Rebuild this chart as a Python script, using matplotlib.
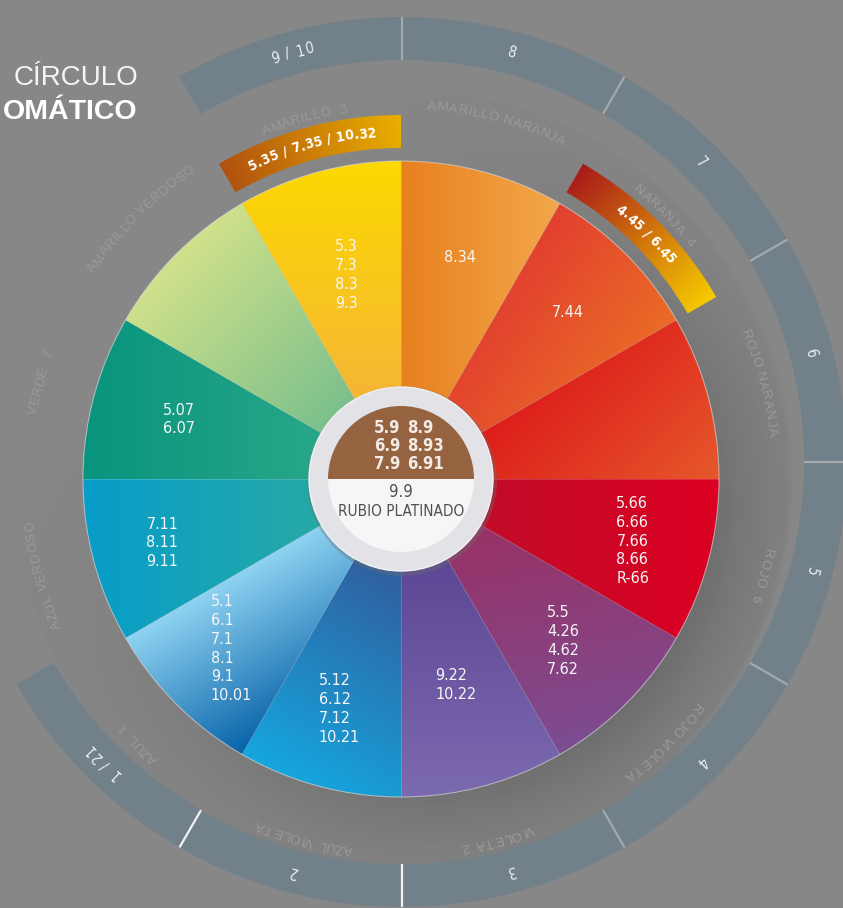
import numpy as np
import matplotlib
matplotlib.use("Agg")
import matplotlib.pyplot as plt
from matplotlib.patches import Wedge, Circle
from matplotlib.colors import to_rgb
from matplotlib.font_manager import FontProperties
from matplotlib.textpath import TextToPath

W, H, DPI = 843, 908, 100

# ================= DATA =================
# wheel sectors, clockwise from 12 o'clock (each 30 degrees)
sector_codes = ["8.34", "7.44", "", "5.66\n6.66\n7.66\n8.66\nR-66",
                "5.5\n4.26\n4.62\n7.62", "9.22\n10.22",
                "5.12\n6.12\n7.12\n10.21", "5.1\n6.1\n7.1\n8.1\n9.1\n10.01",
                "7.11\n8.11\n9.11", "5.07\n6.07", "", "5.3\n7.3\n8.3\n9.3"]
color_names = ["AMARILLO NARANJA", "NARANJA .4", "ROJO NARANJA", "ROJO .6",
               "ROJO VIOLETA", "VIOLETA .2", "AZUL VIOLETA", "AZUL .1",
               "AZUL VERDOSO", "VERDE .7", "AMARILLO VERDOSO", "AMARILLO .3"]
# (start colour, end colour, gradient direction in degrees)
sector_fill = [("#e8801e", "#f2a84c", 0), ("#e2402f", "#ea6c26", -35),
               ("#dc1619", "#e6582b", -45), ("#b8102c", "#dc0022", 0),
               ("#a02a5a", "#7c4d92", -80), ("#523b8b", "#7c6ab0", -90),
               ("#3a4688", "#15a6de", -120), ("#8fd3f2", "#0762a8", -60),
               ("#079dca", "#31ad98", 0), ("#08947f", "#33ad8b", 0),
               ("#d0e18a", "#5ab38d", -45), ("#fdd900", "#f2aa48", -90)]

# outer level ring, clockwise starting at the 120 degree mark
ring_levels = ["9 / 10", "8", "7", "6", "5", "4", "3", "2", "1 / 21"]

# highlighted arcs: text, sector index, colours
highlight_text = ["5.35 / 7.35 / 10.32", "4.45 / 6.45"]
highlight_sector = [11, 1]
highlight_fill = [("#b0500f", "#eab000"), ("#a8181a", "#f7cd00")]

hub_left = ["5.9", "6.9", "7.9"]
hub_right = ["8.9", "8.93", "6.91"]
hub_code = "9.9"
hub_name = "RUBIO PLATINADO"

# ================= LAYOUT =================
CX, CY = 401, 908 - 479          # wheel centre
RX, RY = 402, 908 - 462          # level ring centre
R_WHEEL = 318
label_r = [229, 236, 0, 240, 229, 213, 238, 240, 247, 230, 0, 211]
BG = "#878787"
NARROW = ["Liberation Sans Narrow", "DejaVu Sans"]
SANS = ["Liberation Sans", "DejaVu Sans"]

fig = plt.figure(figsize=(W / DPI, H / DPI), dpi=DPI, facecolor=BG)
ax = fig.add_axes([0, 0, 1, 1])
ax.set_facecolor(BG)
ax.axis("off")

ttp = TextToPath()


def text_w(s, fp):
    # width in pixels, trailing spaces kept by measuring against a bar
    a = ttp.get_text_width_height_descent(s + "|", fp, ismath=False)[0]
    b = ttp.get_text_width_height_descent("|", fp, ismath=False)[0]
    return (a - b) * DPI / 72


def arc_text(s, r, ang, cx, cy, size, color, weight="normal", family=SANS,
             stretch="normal", spacing=0.0, z=10):
    fp = FontProperties(family=family, weight=weight, size=size, stretch=stretch)
    total = text_w(s, fp) + spacing * (len(s) - 1)
    base_r = r - size * 0.5
    for i, ch in enumerate(s):
        if ch == " ":
            continue
        mid = -total / 2 + (text_w(s[:i], fp) + text_w(s[:i + 1], fp)) / 2 + spacing * i
        a = np.radians(ang) - mid / base_r
        ax.text(cx + base_r * np.cos(a), cy + base_r * np.sin(a), ch,
                rotation=np.degrees(a) - 90, rotation_mode="anchor",
                ha="center", va="baseline", fontproperties=fp, color=color,
                zorder=z)


def grad_patch(patch, c0, c1, direction, z):
    patch.set_facecolor("none")
    patch.set_edgecolor("none")
    ax.add_patch(patch)
    verts = patch.get_path().vertices
    x0, y0 = verts.min(0)
    x1, y1 = verts.max(0)
    n = 200
    X, Y = np.meshgrid(np.linspace(x0, x1, n), np.linspace(y0, y1, n))
    d = np.array([np.cos(np.radians(direction)), np.sin(np.radians(direction))])
    pv = verts @ d
    t = ((X * d[0] + Y * d[1] - pv.min()) / (pv.max() - pv.min())).clip(0, 1)
    img = np.array(to_rgb(c0)) * (1 - t)[..., None] + np.array(to_rgb(c1)) * t[..., None]
    im = ax.imshow(img, extent=(x0, x1, y0, y1), origin="lower", zorder=z,
                   interpolation="bilinear")
    im.set_clip_path(patch)


# ---- shadow band around the wheel (darker to the lower right) ----
yy, xx = np.mgrid[0:H, 0:W] + 0.5
rr = np.hypot(xx - CX, yy - CY)
aa = np.arctan2(yy - CY, xx - CX)
near = ((390 - rr) / 72).clip(0, 1)
side = (0.5 + 0.5 * np.cos(aa + np.radians(40))) ** 1.4
edge = ((393 - rr) / 6).clip(0, 1)
shade = np.zeros((H, W, 4))
shade[..., 3] = side * edge * (0.06 + 0.13 * near ** 1.3)
ax.imshow(shade, extent=(0, W, 0, H), origin="lower", zorder=1)

# ---- outer level ring ----
ax.add_patch(Wedge((RX, RY), 445, -150, 120, width=43, facecolor="#728089",
                   edgecolor="none", zorder=2))
for k in range(1, len(ring_levels)):
    deg = 120 - 30 * k
    a = np.radians(deg)
    col = "#f2f2f2" if deg in (-90, -120) else "#a3a9ad"
    ax.plot([RX + 402 * np.cos(a), RX + 445 * np.cos(a)],
            [RY + 402 * np.sin(a), RY + 445 * np.sin(a)],
            color=col, lw=1.6, zorder=3, solid_capstyle="butt")
for k, lab in enumerate(ring_levels):
    arc_text(lab, 424, 105 - 30 * k, RX, RY, 10.5, "#eceff0",
             family=NARROW, stretch="condensed", spacing=1.0)

# ---- colour names in the band ----
for i, name in enumerate(color_names):
    arc_text(name, 375, 75 - 30 * i, CX, CY, 9.5, "#9a9a9a", spacing=0.6)

# ---- wheel sectors ----
for i in range(12):
    c0, c1, dirn = sector_fill[i]
    grad_patch(Wedge((CX, CY), R_WHEEL, 60 - 30 * i, 90 - 30 * i), c0, c1, dirn, 4)
ax.add_patch(Circle((CX, CY), R_WHEEL, facecolor="none", edgecolor="#dddddd",
                    lw=0.8, alpha=0.6, zorder=5))
for i in range(12):
    a = np.radians(90 - 30 * i)
    ax.plot([CX, CX + R_WHEEL * np.cos(a)], [CY, CY + R_WHEEL * np.sin(a)],
            color="white", lw=0.5, alpha=0.25, zorder=5)

for i, codes in enumerate(sector_codes):
    if not codes:
        continue
    a = np.radians(75 - 30 * i)
    ax.text(CX + label_r[i] * np.cos(a), CY + label_r[i] * np.sin(a), codes,
            ha="center", va="center", multialignment="left", linespacing=1.32,
            family=NARROW, fontstretch="condensed", fontsize=11.5,
            color="#f6f6f6", zorder=6)

# ---- highlighted arcs ----
for txt, s, (c0, c1) in zip(highlight_text, highlight_sector, highlight_fill):
    t1, t2 = 60 - 30 * s, 90 - 30 * s
    mid = (t1 + t2) / 2
    grad_patch(Wedge((CX, CY), 364, t1, t2, width=33), c0, c1, mid - 90, 4)
    arc_text(txt, 348, mid, CX, CY, 10, "white", weight="bold", family=NARROW,
             stretch="condensed", spacing=0.2, z=7)

# ---- hub ----
ax.add_patch(Circle((CX + 1, CY - 2), 95, facecolor="#6f6f6f", alpha=0.35,
                    edgecolor="none", zorder=7))
ax.add_patch(Circle((CX, CY), 92, facecolor="#e3e3e7", edgecolor="#f2f2f4",
                    lw=1.0, zorder=8))
ax.add_patch(Wedge((CX, CY), 73, 0, 180, facecolor="#95633f", edgecolor="none",
                   zorder=9))
ax.add_patch(Wedge((CX, CY), 73, 180, 360, facecolor="#f6f6f6", edgecolor="none",
                   zorder=9))
for j in range(3):
    y = 908 - (428 + 18 * j)
    ax.text(374, y, hub_left[j], ha="left", va="center", family=NARROW,
            fontstretch="condensed", fontsize=12, fontweight="bold",
            color="#f3ece6", zorder=10)
    ax.text(407, y, hub_right[j], ha="left", va="center", family=NARROW,
            fontstretch="condensed", fontsize=12, fontweight="bold",
            color="#f3ece6", zorder=10)
ax.text(CX, 908 - 492, hub_code, ha="center", va="center", family=NARROW,
        fontstretch="condensed", fontsize=12, color="#505050", zorder=10)
ax.text(CX, 908 - 511, hub_name, ha="center", va="center", family=NARROW,
        fontstretch="condensed", fontsize=11, color="#505050", zorder=10)

# ---- title ----
ax.text(138, 908 - 78, "CÍRCULO", ha="right", va="center", family=SANS,
        fontsize=20, color="#f4f4f4", zorder=10)
ax.text(138, 908 - 112, "OMÁTICO", ha="right", va="center", family=SANS,
        fontsize=20.5, fontweight="bold", color="#ffffff", zorder=10)

ax.set_xlim(0, W)
ax.set_ylim(0, H)
ax.set_aspect("auto")
fig.savefig("out.png", dpi=DPI, facecolor=BG)
